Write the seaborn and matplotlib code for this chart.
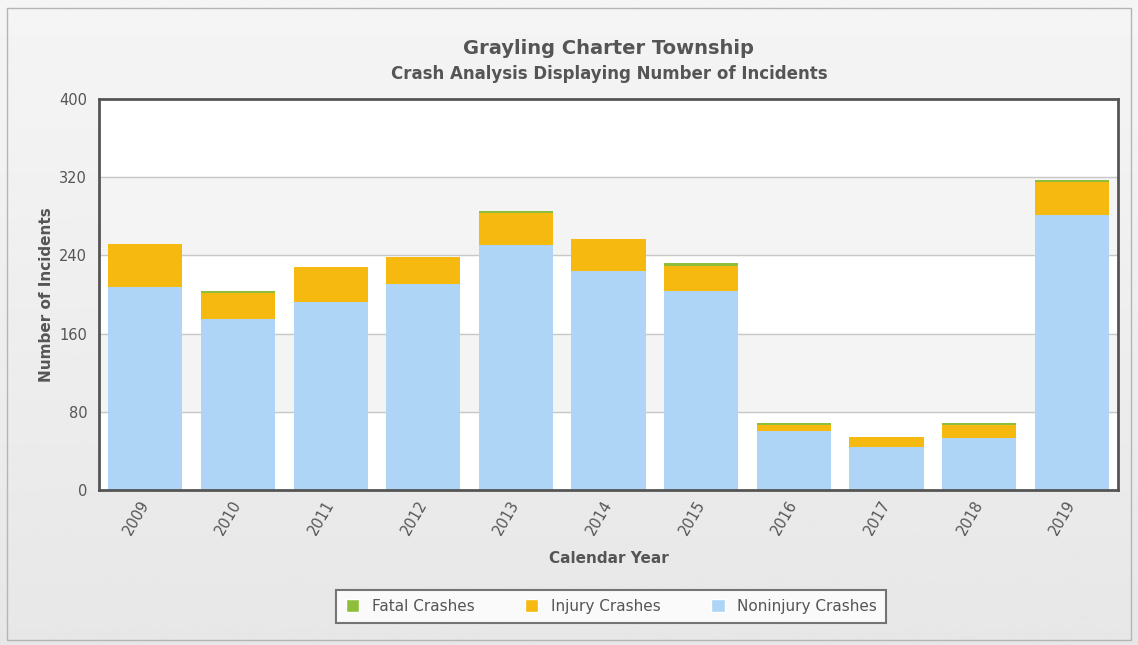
import numpy as np
import pandas as pd
import matplotlib.pyplot as plt
import seaborn as sns
from matplotlib.patches import Patch, Rectangle

years = ["2009", "2010", "2011", "2012", "2013", "2014", "2015", "2016", "2017", "2018", "2019"]
noninjury = [208, 175, 192, 211, 251, 224, 204, 60, 44, 53, 281]
injury = [44, 27, 36, 27, 32, 33, 25, 7, 10, 14, 34]
fatal = [0, 2, 0, 0, 2, 0, 3, 2, 0, 2, 2]

df = pd.DataFrame({"Year": years, "Noninjury": noninjury, "Injury": injury, "Fatal": fatal})
df["NonInj"] = df["Noninjury"]
df["Inj_top"] = df["Noninjury"] + df["Injury"]
df["Total"] = df["Inj_top"] + df["Fatal"]

c_fatal = "#8dbf3a"
c_injury = "#f5b90f"
c_non = "#aed5f5"
txt = "#555555"

sns.set_style("white")
plt.rcParams["font.family"] = ["DejaVu Sans"]

fig = plt.figure(figsize=(11.38, 6.45), dpi=100)
fig.patch.set_facecolor("#eeeeee")

# soft vertical gradient behind everything
bg = fig.add_axes([0, 0, 1, 1], zorder=-10)
grad = np.linspace(0.905, 0.96, 256).reshape(-1, 1)
bg.imshow(grad, aspect="auto", cmap="gray", vmin=0, vmax=1, extent=[0, 1, 0, 1], origin="lower")
bg.set_axis_off()
fig.patches.append(Rectangle((0.006, 0.008), 0.988, 0.98, transform=fig.transFigure,
                             fill=False, edgecolor="#b5b5b5", linewidth=1))

ax = fig.add_axes([0.087, 0.2403, 0.8955, 0.6062])
ax.set_facecolor("white")

# alternating bands
for lo in (80, 240):
    ax.axhspan(lo, lo + 80, color="#f4f4f4", zorder=0)
for g in (80, 160, 240, 320):
    ax.axhline(g, color="#c8c8c8", linewidth=1, zorder=0.5)

sns.barplot(data=df, x="Year", y="Total", color=c_fatal, saturation=1, width=0.8,
            linewidth=0, ax=ax, zorder=1.5)
sns.barplot(data=df, x="Year", y="Inj_top", color=c_injury, saturation=1, width=0.8,
            linewidth=0, ax=ax, zorder=1.6)
sns.barplot(data=df, x="Year", y="NonInj", color=c_non, saturation=1, width=0.8,
            linewidth=0, ax=ax, zorder=1.7)

ax.set_ylim(0, 400)
ax.set_xlim(-0.5, 10.5)
ax.set_yticks([0, 80, 160, 240, 320, 400])
ax.tick_params(axis="y", colors=txt, labelsize=10.5, length=5, width=1, color="#bbbbbb", direction="out")
ax.tick_params(axis="x", colors=txt, labelsize=10.5, length=0, pad=8)
for lab in ax.get_xticklabels():
    lab.set_rotation(60)
    lab.set_ha("right")
    lab.set_va("center")
    lab.set_rotation_mode("anchor")
for s in ax.spines.values():
    s.set_color("#555555")
    s.set_linewidth(2)
    s.set_zorder(5)

ax.set_xlabel("Calendar Year", fontsize=11, fontweight="bold", color=txt, labelpad=10)
ax.set_ylabel("Number of Incidents", fontsize=11, fontweight="bold", color=txt, labelpad=4)

fig.text(0.535, 0.917, "Grayling Charter Township", ha="center", fontsize=14,
         fontweight="bold", color=txt)
fig.text(0.535, 0.877, "Crash Analysis Displaying Number of Incidents", ha="center",
         fontsize=12, fontweight="bold", color=txt)

handles = [Patch(facecolor=c_fatal, label="Fatal Crashes"),
           Patch(facecolor=c_injury, label="Injury Crashes"),
           Patch(facecolor=c_non, label="Noninjury Crashes")]
leg = fig.legend(handles=handles, loc="center", bbox_to_anchor=(0.537, 0.06), ncol=3,
                 frameon=True, fontsize=11, handlelength=0.9, handleheight=0.9,
                 columnspacing=3.3, borderpad=0.6, fancybox=False)
leg.get_frame().set_edgecolor("#555555")
leg.get_frame().set_linewidth(1.5)
leg.get_frame().set_facecolor("white")
for t in leg.get_texts():
    t.set_color(txt)

fig.savefig("out.png", dpi=100, facecolor=fig.get_facecolor())
